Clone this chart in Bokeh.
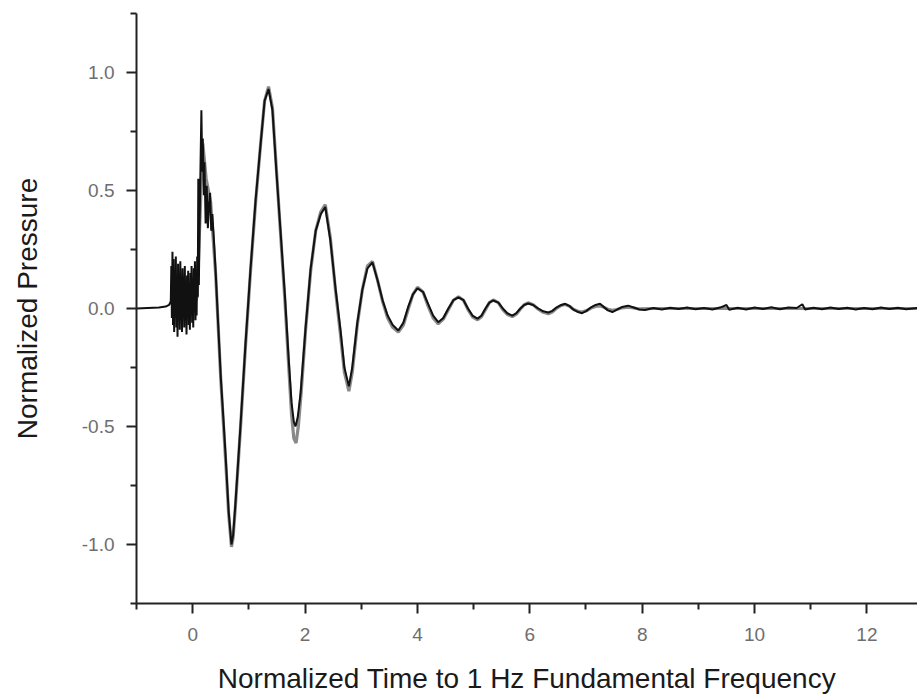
from bokeh.plotting import figure
from bokeh.models import FixedTicker, Range1d, PrintfTickFormatter
from bokeh.embed import file_html
from bokeh.resources import INLINE

# ---- data ----
x_ticks = [0, 2, 4, 6, 8, 10, 12]
x_minor = [-1, 1, 3, 5, 7, 9, 11]
y_ticks = [-1.0, -0.5, 0.0, 0.5, 1.0]
y_minor = [-1.25, -0.75, -0.25, 0.25, 0.75, 1.25]

x_title = "Normalized Time to 1 Hz Fundamental Frequency"
y_title = "Normalized Pressure"

measured_t = [
    -1.00, -0.80, -0.60, -0.48, -0.42, -0.39,
    -0.38, -0.37, -0.36, -0.35, -0.34, -0.33, -0.32, -0.31, -0.30, -0.29,
    -0.28, -0.27, -0.26, -0.25, -0.24, -0.23, -0.22, -0.21, -0.20, -0.19,
    -0.18, -0.17, -0.16, -0.15, -0.14, -0.13, -0.12, -0.11, -0.10, -0.09,
    -0.08, -0.07, -0.06, -0.05, -0.04, -0.03, -0.02, -0.01, 0.00, 0.01,
    0.02, 0.03, 0.04, 0.05, 0.06, 0.07, 0.08, 0.09, 0.10, 0.11, 0.12,
    0.14, 0.155, 0.17, 0.18, 0.20, 0.21, 0.23, 0.25, 0.27, 0.29, 0.31,
    0.33, 0.35, 0.38,
    0.41, 0.45, 0.50, 0.55, 0.59, 0.64, 0.69, 0.72, 0.76, 0.85, 0.94,
    1.03, 1.12, 1.21, 1.28, 1.35, 1.42, 1.49, 1.56, 1.64, 1.71, 1.76,
    1.80, 1.83, 1.87, 1.92, 2.01, 2.10, 2.19, 2.28, 2.36, 2.45, 2.54,
    2.63, 2.70, 2.78, 2.84, 2.93, 3.02, 3.11, 3.20, 3.29, 3.38, 3.47,
    3.56, 3.66, 3.75, 3.84, 3.92, 4.00, 4.10, 4.19, 4.28, 4.37, 4.46,
    4.55, 4.64, 4.73, 4.82, 4.90, 4.98, 5.07, 5.14, 5.21, 5.28, 5.35,
    5.44, 5.52, 5.60, 5.69, 5.76, 5.83, 5.90, 5.97, 6.06, 6.15, 6.24,
    6.33, 6.40, 6.48, 6.56, 6.63, 6.71, 6.78, 6.86, 6.93, 7.01, 7.09,
    7.17, 7.25, 7.31, 7.39, 7.47, 7.55, 7.64, 7.75, 7.85, 7.95, 8.05,
    8.20, 8.35, 8.50, 8.65, 8.80, 8.95, 9.10, 9.25, 9.40, 9.50, 9.55,
    9.70, 9.85, 10.00, 10.15, 10.30, 10.45, 10.60, 10.75, 10.85, 10.90,
    11.05, 11.20, 11.35, 11.50, 11.65, 11.80, 11.95, 12.10, 12.25, 12.40,
    12.55, 12.70, 12.90,
]
measured_p = [
    0.000, 0.002, 0.004, 0.008, 0.015, 0.030,
    0.18, -0.04, 0.24, -0.07, 0.21, -0.10, 0.16, -0.02, 0.22, -0.08,
    0.13, -0.12, 0.19, 0.01, 0.15, -0.09, 0.20, -0.05, 0.11, -0.10,
    0.17, 0.00, 0.13, -0.08, 0.18, -0.04, 0.10, -0.11, 0.14, -0.03,
    0.16, -0.07, 0.09, -0.09, 0.15, -0.02, 0.18, -0.06, 0.12, -0.08,
    0.17, 0.00, 0.20, -0.05, 0.14, -0.03, 0.22, 0.05, 0.55, 0.10, 0.30,
    0.62, 0.84, 0.58, 0.72, 0.48, 0.62, 0.36, 0.52, 0.34, 0.44, 0.49,
    0.33, 0.40, 0.28,
    0.15, -0.05, -0.29, -0.48, -0.64, -0.86, -1.00, -0.96, -0.83, -0.50, -0.15,
    0.17, 0.46, 0.70, 0.88, 0.93, 0.84, 0.58, 0.34, 0.06, -0.22, -0.40,
    -0.48, -0.50, -0.46, -0.36, -0.08, 0.17, 0.33, 0.40, 0.43, 0.29, 0.09,
    -0.09, -0.25, -0.33, -0.25, -0.06, 0.08, 0.17, 0.195, 0.12, 0.035, -0.03,
    -0.07, -0.093, -0.06, 0.01, 0.06, 0.085, 0.07, 0.02, -0.03, -0.058, -0.04,
    0.0, 0.035, 0.047, 0.035, 0.0, -0.03, -0.043, -0.03, 0.0, 0.025, 0.034,
    0.025, 0.0, -0.02, -0.03, -0.02, 0.0, 0.015, 0.021, 0.015, 0.0, -0.012,
    -0.017, -0.01, 0.005, 0.015, 0.02, 0.01, -0.005, -0.015, -0.02, -0.01, 0.005,
    0.015, 0.02, 0.008, -0.008, -0.015, -0.005, 0.006, 0.012, 0.004, -0.004, -0.006,
    0.002, -0.004, 0.003, -0.002, 0.004, -0.003, 0.002, -0.004, 0.005, 0.015, -0.005,
    0.003, -0.004, 0.004, -0.002, 0.005, -0.003, 0.004, 0.002, 0.018, -0.004,
    0.003, -0.003, 0.004, -0.002, 0.003, -0.004, 0.002, -0.003, 0.004, -0.002,
    0.003, -0.003, 0.002,
]

model_t = [
    0.00, 0.08, 0.14, 0.18, 0.24, 0.32, 0.41, 0.50, 0.59, 0.64, 0.69,
    0.72, 0.76, 0.85, 0.94, 1.03, 1.12, 1.21, 1.28, 1.35, 1.42, 1.49,
    1.56, 1.64, 1.71, 1.76, 1.80, 1.84, 1.88, 1.93, 2.01, 2.10, 2.19,
    2.28, 2.36, 2.45, 2.54, 2.63, 2.70, 2.78, 2.84, 2.93, 3.02, 3.11,
    3.20, 3.29, 3.38, 3.47, 3.56, 3.66, 3.75, 3.84, 3.92, 4.00, 4.10,
    4.19, 4.28, 4.37, 4.46, 4.55, 4.64, 4.73, 4.82, 4.90, 4.98, 5.07,
    5.14, 5.21, 5.28, 5.35, 5.44, 5.52, 5.60, 5.69, 5.76, 5.83, 5.90,
    5.97, 6.06, 6.15, 6.24, 6.33, 6.40, 6.48, 6.56, 6.63, 6.71, 6.78,
    6.86, 6.93, 7.01, 7.09, 7.17, 7.25, 7.31, 7.39, 7.47, 7.55, 7.64,
    7.75, 7.85, 7.95, 8.20, 10.0, 12.90,
]
model_p = [
    0.0, 0.05, 0.45, 0.70, 0.55, 0.45, 0.14, -0.30, -0.66, -0.87, -1.01,
    -0.97, -0.84, -0.51, -0.16, 0.16, 0.45, 0.70, 0.88, 0.94, 0.85, 0.59,
    0.33, 0.04, -0.25, -0.45, -0.55, -0.57, -0.50, -0.36, -0.09, 0.16, 0.33,
    0.41, 0.44, 0.30, 0.08, -0.11, -0.27, -0.35, -0.27, -0.07, 0.08, 0.18,
    0.20, 0.12, 0.03, -0.04, -0.08, -0.10, -0.07, 0.0, 0.06, 0.09, 0.07,
    0.01, -0.04, -0.065, -0.045, -0.005, 0.035, 0.05, 0.035, -0.005, -0.035, -0.048,
    -0.035, -0.005, 0.025, 0.036, 0.025, -0.005, -0.025, -0.034, -0.024, -0.003, 0.016,
    0.024, 0.016, -0.003, -0.016, -0.022, -0.015, 0.002, 0.013, 0.017, 0.009, -0.004,
    -0.012, -0.015, -0.009, 0.002, 0.009, 0.011, 0.006, -0.003, -0.008, -0.004, 0.003,
    0.006, 0.002, -0.002, 0.0, 0.0, 0.0,
]

FONT = "Liberation Sans"

p = figure(
    width=917, height=700,
    output_backend="svg", toolbar_location=None,
    x_range=Range1d(-1, 12.9), y_range=Range1d(-1.25, 1.25),
    min_border_left=136, min_border_right=0,
    min_border_top=13, min_border_bottom=97,
)
p.outline_line_color = None
p.xgrid.grid_line_color = None
p.ygrid.grid_line_color = None
p.background_fill_color = "white"
p.border_fill_color = "white"

p.line(model_t, model_p, line_color="#8a8a8a", line_width=3.2)
p.line(measured_t, measured_p, line_color="#111111", line_width=2.0)

p.xaxis.ticker = FixedTicker(ticks=x_ticks, minor_ticks=x_minor)
p.yaxis.ticker = FixedTicker(ticks=y_ticks, minor_ticks=y_minor)
p.xaxis.formatter = PrintfTickFormatter(format="%d")
p.yaxis.formatter = PrintfTickFormatter(format="%.1f")

for ax in (p.xaxis[0], p.yaxis[0]):
    ax.axis_line_color = "#222222"
    ax.axis_line_width = 2
    ax.major_tick_line_color = "#222222"
    ax.major_tick_line_width = 2
    ax.minor_tick_line_color = "#222222"
    ax.minor_tick_line_width = 2
    ax.major_tick_in = 0
    ax.major_tick_out = 10
    ax.minor_tick_in = 0
    ax.minor_tick_out = 6
    ax.major_label_text_font = FONT
    ax.major_label_text_font_size = "19px"
    ax.major_label_text_color = "#6e6e6e"
    ax.axis_label_text_font = FONT
    ax.axis_label_text_font_style = "normal"
    ax.axis_label_text_color = "#1a1a1a"
p.xaxis.major_label_standoff = 14
p.yaxis.major_label_standoff = 12

p.xaxis.axis_label = x_title
p.xaxis.axis_label_text_font_size = "28px"
p.xaxis.axis_label_standoff = 19
p.yaxis.axis_label = y_title
p.yaxis.axis_label_text_font_size = "28px"
p.yaxis.axis_label_standoff = 36

open("out.html", "w").write(file_html(p, INLINE))
